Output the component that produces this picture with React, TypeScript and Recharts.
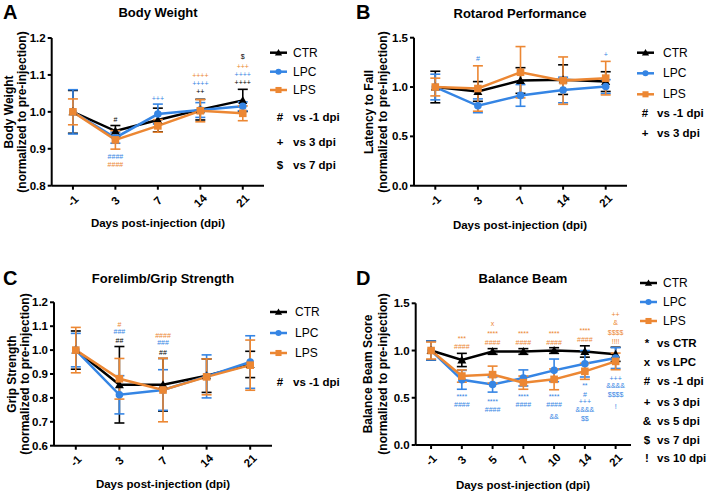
import React from 'react';
import { ComposedChart, Line, XAxis, YAxis, ErrorBar, Scatter } from 'recharts';

const FONT = '"Liberation Sans", Arial, Helvetica, sans-serif';
const BLACK = '#000000';
const BLUE = '#3585e4';
const ORANGE = '#ec8733';

// x categories
const days5 = ['-1', '3', '7', '14', '21'];
const days7 = ['-1', '3', '5', '7', '10', '14', '21'];

// A: body weight (mean, sem)
const bwCtr = [1.0, 0.948, 0.978, 1.006, 1.031];
const bwCtrSem = [0.058, 0.015, 0.032, 0.028, 0.03];
const bwLpc = [1.0, 0.93, 0.994, 1.005, 1.015];
const bwLpcSem = [0.06, 0.015, 0.027, 0.02, 0.012];
const bwLps = [1.0, 0.924, 0.962, 1.003, 0.996];
const bwLpsSem = [0.035, 0.025, 0.017, 0.03, 0.02];

// B: rotarod
const rrCtr = [1.0, 0.955, 1.066, 1.075, 1.055];
const rrCtrSem = [0.16, 0.1, 0.13, 0.15, 0.1];
const rrLpc = [1.0, 0.81, 0.915, 0.97, 1.005];
const rrLpcSem = [0.13, 0.07, 0.11, 0.13, 0.07];
const rrLps = [1.0, 0.985, 1.15, 1.065, 1.09];
const rrLpsSem = [0.09, 0.23, 0.26, 0.24, 0.17];

// C: grip strength
const gsCtr = [1.0, 0.855, 0.855, 0.893, 0.94];
const gsCtrSem = [0.08, 0.16, 0.11, 0.07, 0.055];
const gsLpc = [1.0, 0.813, 0.833, 0.89, 0.95];
const gsLpcSem = [0.07, 0.08, 0.085, 0.09, 0.11];
const gsLps = [1.0, 0.88, 0.833, 0.888, 0.937];
const gsLpsSem = [0.095, 0.085, 0.133, 0.075, 0.105];

// D: balance beam
const bbCtr = [1.0, 0.9, 0.99, 0.99, 1.0, 0.99, 0.96];
const bbCtrSem = [0.1, 0.07, 0.03, 0.03, 0.03, 0.06, 0.075];
const bbLpc = [1.0, 0.69, 0.64, 0.71, 0.79, 0.86, 0.92];
const bbLpcSem = [0.1, 0.1, 0.08, 0.085, 0.12, 0.14, 0.11];
const bbLps = [1.0, 0.73, 0.745, 0.66, 0.695, 0.78, 0.885];
const bbLpsSem = [0.09, 0.065, 0.09, 0.07, 0.11, 0.085, 0.088];

// significance marks: [x index, y value, text, series]
type Key = 'ctr' | 'lpc' | 'lps';
type Note = [number, number, string, Key];

const bwNotes: Note[] = [
  [1, 0.98, '#', 'ctr'],
  [1, 0.879, '####', 'lpc'],
  [1, 0.858, '####', 'lps'],
  [2, 1.037, '+++', 'lpc'],
  [3, 1.098, '++++', 'lps'],
  [3, 1.076, '++++', 'lpc'],
  [3, 1.055, '++', 'ctr'],
  [4, 1.15, '$', 'ctr'],
  [4, 1.122, '+++', 'lps'],
  [4, 1.1, '++++', 'lpc'],
  [4, 1.079, '++++', 'ctr'],
];

const rrNotes: Note[] = [
  [1, 1.285, '#', 'lpc'],
  [4, 1.325, '+', 'lpc'],
];

const gsNotes: Note[] = [
  [1, 1.109, '#', 'lps'],
  [1, 1.076, '###', 'lpc'],
  [1, 1.042, '##', 'ctr'],
  [2, 1.063, '####', 'lps'],
  [2, 1.03, '###', 'lpc'],
  [2, 0.992, '##', 'ctr'],
];

const bbNotes: Note[] = [
  [1, 1.13, '***', 'lps'],
  [1, 1.041, '####', 'lps'],
  [1, 0.512, '****', 'lpc'],
  [1, 0.434, '####', 'lpc'],
  [2, 1.289, 'x', 'lps'],
  [2, 1.183, '****', 'lps'],
  [2, 1.088, '####', 'lps'],
  [2, 0.459, '****', 'lpc'],
  [2, 0.378, '####', 'lpc'],
  [3, 1.183, '****', 'lps'],
  [3, 1.088, '####', 'lps'],
  [3, 0.512, '****', 'lpc'],
  [3, 0.434, '####', 'lpc'],
  [4, 1.183, '****', 'lps'],
  [4, 1.088, '####', 'lps'],
  [4, 0.512, '****', 'lpc'],
  [4, 0.434, '####', 'lpc'],
  [4, 0.3, '&&', 'lpc'],
  [5, 1.211, '****', 'lps'],
  [5, 1.12, '####', 'lps'],
  [5, 0.625, '**', 'lpc'],
  [5, 0.537, '#', 'lpc'],
  [5, 0.459, '+++', 'lpc'],
  [5, 0.378, '&&&&', 'lpc'],
  [5, 0.283, '$$', 'lpc'],
  [6, 1.377, '++', 'lps'],
  [6, 1.296, '&', 'lps'],
  [6, 1.194, '$$$$', 'lps'],
  [6, 1.094, '!!!!', 'lps'],
  [6, 0.707, '+++', 'lpc'],
  [6, 0.625, '&&&&', 'lpc'],
  [6, 0.537, '$$$$', 'lpc'],
  [6, 0.406, '!', 'lpc'],
];

const keysA: [string, string][] = [['#', 'vs -1 dpi'], ['+', 'vs 3 dpi'], ['$', 'vs 7 dpi']];
const keysB: [string, string][] = [['#', 'vs -1 dpi'], ['+', 'vs 3 dpi']];
const keysC: [string, string][] = [['#', 'vs -1 dpi']];
const keysD: [string, string][] = [
  ['*', 'vs CTR'], ['x', 'vs LPC'], ['#', 'vs -1 dpi'], ['+', 'vs 3 dpi'],
  ['&', 'vs 5 dpi'], ['$', 'vs 7 dpi'], ['!', 'vs 10 dpi'],
];

const SERIES: { key: Key; name: string; color: string; shape: string }[] = [
  { key: 'ctr', name: 'CTR', color: BLACK, shape: 'tri' },
  { key: 'lpc', name: 'LPC', color: BLUE, shape: 'circle' },
  { key: 'lps', name: 'LPS', color: ORANGE, shape: 'square' },
];
const COLOR: Record<Key, string> = { ctr: BLACK, lpc: BLUE, lps: ORANGE };

function buildRows(days: string[], ctr: number[], ctrE: number[], lpc: number[], lpcE: number[], lps: number[], lpsE: number[]) {
  return days.map((d, i) => ({
    i, day: d,
    ctr: ctr[i], ctrE: ctrE[i],
    lpc: lpc[i], lpcE: lpcE[i],
    lps: lps[i], lpsE: lpsE[i],
  }));
}

function Marker({ cx, cy, shape, color, s = 1 }: any) {
  if (cx == null || cy == null) return null;
  if (shape === 'tri')
    return <polygon points={`${cx},${cy - 4.5 * s} ${cx - 4.5 * s},${cy + 3.5 * s} ${cx + 4.5 * s},${cy + 3.5 * s}`} fill={color} />;
  if (shape === 'circle') return <circle cx={cx} cy={cy} r={3.8 * s} fill={color} />;
  return <rect x={cx - 3.8 * s} y={cy - 3.8 * s} width={7.6 * s} height={7.6 * s} fill={color} />;
}

const NoteShape = (p: any) => (
  <text x={p.cx} y={p.cy} textAnchor="middle" dominantBaseline="central"
    fontSize={7} fontFamily={FONT} fill={COLOR[p.payload.s as Key]}>
    {p.payload.t}
  </text>
);

type PanelCfg = {
  ox: number; oy: number;
  plot: { l: number; t: number; r: number; b: number };
  rows: any[]; days: string[];
  yDomain: [number, number]; yTicks: number[];
  notes: Note[];
};

const W = 354;
const H = 245;
const YW = 40;
const XH = 30;

function Panel({ cfg }: { cfg: PanelCfg }) {
  const { ox, oy, plot, rows, days, yDomain, yTicks, notes } = cfg;
  const margin = { left: plot.l - YW, top: plot.t, right: W - plot.r, bottom: H - plot.b - XH };
  const noteData = notes.map(([i, y, t, s]) => ({ i, y, t, s }));
  return (
    <div style={{ position: 'absolute', left: ox, top: oy, width: W, height: H }}>
      <ComposedChart width={W} height={H} data={rows} margin={margin}>
        <XAxis
          dataKey="i" type="number" domain={[-0.5, days.length - 0.5]} allowDataOverflow
          ticks={days.map((_, i) => i)} height={XH} tickSize={4}
          axisLine={{ stroke: BLACK, strokeWidth: 2 }} tickLine={{ stroke: BLACK, strokeWidth: 2 }}
          tick={(p: any) => (
            <text key={p.index} transform={`translate(${p.x},${p.y + 9}) rotate(-45)`} textAnchor="middle"
              dominantBaseline="central" fontSize={11.5} fontWeight="bold" fontFamily={FONT} fill={BLACK}>
              {days[p.payload.value]}
            </text>
          )}
        />
        <YAxis
          type="number" domain={yDomain} ticks={yTicks} allowDataOverflow width={YW} tickSize={4}
          axisLine={{ stroke: BLACK, strokeWidth: 2 }} tickLine={{ stroke: BLACK, strokeWidth: 2 }}
          tick={{ fontSize: 11.5, fontWeight: 'bold', fill: BLACK, fontFamily: FONT }}
          tickFormatter={(v: number) => v.toFixed(1)}
        />
        {SERIES.map((s) => (
          <Line key={s.key} dataKey={s.key} stroke={s.color} strokeWidth={2.5} isAnimationActive={false}
            dot={(p: any) => <Marker key={`${s.key}-${p.index}`} cx={p.cx} cy={p.cy} shape={s.shape} color={s.color} />}
            activeDot={false}>
            <ErrorBar dataKey={`${s.key}E`} width={5} stroke={s.color} strokeWidth={1.6} direction="y" />
          </Line>
        ))}
        <Scatter data={noteData} dataKey="y" shape={NoteShape} isAnimationActive={false} />
      </ComposedChart>
    </div>
  );
}

type Deco = {
  letter: [string, number, number];
  title: [string, number, number];
  ylab: [string, string]; ylx: [number, number]; yly: number;
  xlab: [number, number];
  legLine: number; legText: number; legRows: number[];
  keys: [string, string][]; keySym: number; keyText: number; keyRows: number[];
};

function Decor({ d }: { d: Deco }) {
  const bold = { fontFamily: FONT, fontWeight: 'bold' as const, fill: BLACK };
  return (
    <g>
      <text x={d.letter[1]} y={d.letter[2]} fontSize={20} {...bold}>{d.letter[0]}</text>
      <text x={d.title[1]} y={d.title[2]} fontSize={13} textAnchor="middle" {...bold}>{d.title[0]}</text>
      {d.ylab.map((t, k) => (
        <text key={k} transform={`translate(${d.ylx[k]},${d.yly}) rotate(-90)`} textAnchor="middle"
          dominantBaseline="central" fontSize={12} {...bold}>{t}</text>
      ))}
      <text x={d.xlab[0]} y={d.xlab[1]} fontSize={11.5} textAnchor="middle" {...bold}>Days post-injection (dpi)</text>
      {SERIES.map((s, k) => (
        <g key={s.key}>
          <line x1={d.legLine} x2={d.legLine + 17} y1={d.legRows[k]} y2={d.legRows[k]} stroke={s.color} strokeWidth={2.5} />
          <Marker cx={d.legLine + 8.5} cy={d.legRows[k]} shape={s.shape} color={s.color} s={0.8} />
          <text x={d.legText} y={d.legRows[k]} dominantBaseline="central" fontSize={12} fontFamily={FONT} fill={BLACK}>{s.name}</text>
        </g>
      ))}
      {d.keys.map(([sym, txt], k) => (
        <g key={k}>
          <text x={d.keySym} y={d.keyRows[k]} textAnchor="middle" dominantBaseline="central" fontSize={11.5} {...bold}>{sym}</text>
          <text x={d.keyText} y={d.keyRows[k]} dominantBaseline="central" fontSize={11.5} {...bold}>{txt}</text>
        </g>
      ))}
    </g>
  );
}

const panels: PanelCfg[] = [
  { ox: 0, oy: 0, plot: { l: 51.7, t: 38, r: 264, b: 185.7 }, days: days5,
    rows: buildRows(days5, bwCtr, bwCtrSem, bwLpc, bwLpcSem, bwLps, bwLpsSem),
    yDomain: [0.8, 1.2], yTicks: [0.8, 0.9, 1.0, 1.1, 1.2], notes: bwNotes },
  { ox: 355, oy: 0, plot: { l: 59, t: 37.7, r: 272, b: 185.7 }, days: days5,
    rows: buildRows(days5, rrCtr, rrCtrSem, rrLpc, rrLpcSem, rrLps, rrLpsSem),
    yDomain: [0, 1.5], yTicks: [0, 0.5, 1.0, 1.5], notes: rrNotes },
  { ox: 0, oy: 245, plot: { l: 54, t: 57.3, r: 272, b: 200.7 }, days: days5,
    rows: buildRows(days5, gsCtr, gsCtrSem, gsLpc, gsLpcSem, gsLps, gsLpsSem),
    yDomain: [0.6, 1.2], yTicks: [0.6, 0.7, 0.8, 0.9, 1.0, 1.1, 1.2], notes: gsNotes },
  { ox: 355, oy: 245, plot: { l: 60.7, t: 58.3, r: 276, b: 200 }, days: days7,
    rows: buildRows(days7, bbCtr, bbCtrSem, bbLpc, bbLpcSem, bbLps, bbLpsSem),
    yDomain: [0, 1.5], yTicks: [0, 0.5, 1.0, 1.5], notes: bbNotes },
];

const decos: Deco[] = [
  { letter: ['A', 3, 19], title: ['Body Weight', 158, 17],
    ylab: ['Body Weight', '(normalized to pre-injection)'], ylx: [9, 22], yly: 112, xlab: [158, 227],
    legLine: 270, legText: 293, legRows: [52.7, 71.7, 90],
    keys: keysA, keySym: 280, keyText: 293, keyRows: [117, 142, 165] },
  { letter: ['B', 356, 19], title: ['Rotarod Performance', 520, 18],
    ylab: ['Latency to Fall', '(normalized to pre-injection)'], ylx: [369, 383], yly: 112, xlab: [520, 229],
    legLine: 637, legText: 663, legRows: [52.7, 73.3, 94.3],
    keys: keysB, keySym: 645, keyText: 657, keyRows: [113, 133] },
  { letter: ['C', 3, 285], title: ['Forelimb/Grip Strength', 163, 283],
    ylab: ['Grip Strength', '(normalized to pre-injection)'], ylx: [12, 25], yly: 374, xlab: [163, 488],
    legLine: 270, legText: 295, legRows: [312, 333, 353],
    keys: keysC, keySym: 280, keyText: 293, keyRows: [382] },
  { letter: ['D', 356, 285], title: ['Balance Beam', 523, 283],
    ylab: ['Balance Beam Score', '(normalized to pre-injection)'], ylx: [368, 383], yly: 374, xlab: [523, 489],
    legLine: 640, legText: 663, legRows: [283, 302, 321],
    keys: keysD, keySym: 647, keyText: 657, keyRows: [343, 362, 381, 402, 421, 440, 458] },
];

export default function App() {
  return (
    <div style={{ position: 'absolute', left: 0, top: 0, width: 709, height: 495, background: '#fff', overflow: 'hidden' }}>
      {panels.map((p, k) => <Panel key={k} cfg={p} />)}
      <svg width={709} height={495} style={{ position: 'absolute', left: 0, top: 0, pointerEvents: 'none' }}>
        {decos.map((d, k) => <Decor key={k} d={d} />)}
      </svg>
    </div>
  );
}
